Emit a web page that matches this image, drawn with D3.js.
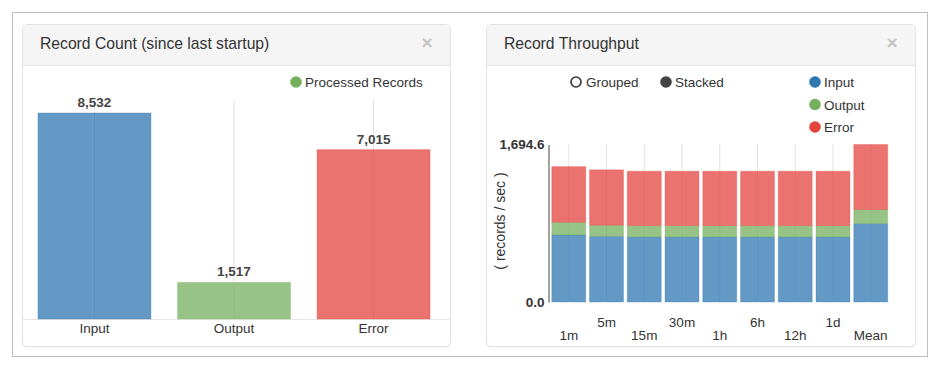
<!DOCTYPE html>
<html>
<head>
<meta charset="utf-8">
<script src="https://cdn.jsdelivr.net/npm/d3@7"></script>
<style>
  body { margin: 0; background: #fff; font-family: "Liberation Sans", Arial, sans-serif; }
  svg text { font-family: "Liberation Sans", Arial, sans-serif; }
</style>
</head>
<body>
<svg id="chart" width="939" height="370"></svg>
<script>
// record count since last startup
const countCategories = ["Input", "Output", "Error"];
const countValues = [8532, 1517, 7015];

// throughput per time window (records / sec)
const windows = ["1m", "5m", "15m", "30m", "1h", "6h", "12h", "1d", "Mean"];
const inputRate = [722, 707, 700, 700, 700, 700, 700, 700, 843.2];
const outputRate = [136, 119, 122, 122, 122, 122, 122, 122, 151];
const errorRate = [599, 596, 585, 585, 585, 585, 585, 585, 700.4];
const rateTicks = [0, 1694.6];

const seriesNames = ["Input", "Output", "Error"];
const colors = { Input: "#2f77b0", Output: "#76af5e", Error: "#e4443f" };

const svg = d3.select("#chart");

// outer frame
svg.append("rect")
    .attr("x", 12.5).attr("y", 12.5)
    .attr("width", 915).attr("height", 344)
    .attr("fill", "#fff").attr("stroke", "#bdbdbd");

function panel(x, w, title) {
    const g = svg.append("g");
    g.append("rect")
        .attr("x", x + 0.5).attr("y", 25.5)
        .attr("width", w).attr("height", 322)
        .attr("rx", 4)
        .attr("fill", "#eee");
    g.append("rect")
        .attr("x", x + 0.5).attr("y", 24.5)
        .attr("width", w).attr("height", 322)
        .attr("rx", 4)
        .attr("fill", "#fff").attr("stroke", "#e2e2e2");
    g.append("path")
        .attr("d", `M${x + 1},65 V29 q0,-4 4,-4 H${x + w - 4} q4,0 4,4 V65 Z`)
        .attr("fill", "#f5f5f5");
    g.append("line")
        .attr("x1", x + 1).attr("x2", x + w)
        .attr("y1", 65.5).attr("y2", 65.5)
        .attr("stroke", "#e2e2e2");
    g.append("text")
        .attr("x", x + 18).attr("y", 49)
        .attr("font-size", 15.7).attr("fill", "#333")
        .text(title);
    g.append("text")
        .attr("x", x + w - 23).attr("y", 49)
        .attr("text-anchor", "middle")
        .attr("font-size", 19).attr("font-weight", "bold").attr("fill", "#c4c4c4")
        .text("\u00d7");
}

panel(22, 428, "Record Count (since last startup)");
panel(486, 429, "Record Throughput");

// ---------- Record count bar chart ----------
const xCount = d3.scaleBand()
    .domain(countCategories)
    .range([24, 444])
    .paddingInner(0.19)
    .paddingOuter(0.1);

const yCount = d3.scaleLinear()
    .domain([0, d3.max(countValues)])
    .range([319, 113]);

const left = svg.append("g");

left.selectAll(".grid")
    .data(countCategories)
    .enter().append("line")
    .attr("x1", d => xCount(d) + xCount.bandwidth() / 2)
    .attr("x2", d => xCount(d) + xCount.bandwidth() / 2)
    .attr("y1", 100).attr("y2", 319)
    .attr("stroke", "#e3e3e3");

left.append("line")
    .attr("x1", 22).attr("x2", 450)
    .attr("y1", 319.5).attr("y2", 319.5)
    .attr("stroke", "#e6e6e6");

left.selectAll(".bar")
    .data(countValues)
    .enter().append("rect")
    .attr("x", (d, i) => xCount(countCategories[i]))
    .attr("width", xCount.bandwidth())
    .attr("y", d => yCount(d))
    .attr("height", d => yCount(0) - yCount(d))
    .attr("fill", (d, i) => colors[countCategories[i]])
    .attr("fill-opacity", 0.75)
    .attr("stroke", (d, i) => colors[countCategories[i]])
    .attr("stroke-opacity", 0.3);

left.selectAll(".val")
    .data(countValues)
    .enter().append("text")
    .attr("x", (d, i) => xCount(countCategories[i]) + xCount.bandwidth() / 2)
    .attr("y", d => yCount(d) - 6)
    .attr("text-anchor", "middle")
    .attr("font-size", 13.5).attr("font-weight", "bold").attr("fill", "#444")
    .text(d => d3.format(",")(d));

left.selectAll(".lab")
    .data(countCategories)
    .enter().append("text")
    .attr("x", d => xCount(d) + xCount.bandwidth() / 2)
    .attr("y", 333)
    .attr("text-anchor", "middle")
    .attr("font-size", 13.5).attr("fill", "#333")
    .text(d => d);

left.append("circle")
    .attr("cx", 296).attr("cy", 82).attr("r", 5.8)
    .attr("fill", colors.Output);
left.append("text")
    .attr("x", 305).attr("y", 87)
    .attr("font-size", 13.5).attr("fill", "#333")
    .text("Processed Records");

// ---------- Throughput stacked bars ----------
const rateRows = windows.map((w, i) => ({
    window: w, Input: inputRate[i], Output: outputRate[i], Error: errorRate[i]
}));
const stacked = d3.stack().keys(seriesNames)(rateRows);

const xRate = d3.scaleBand()
    .domain(windows)
    .range([548, 891.5])
    .paddingInner(0.1)
    .paddingOuter(0.1);

const yRate = d3.scaleLinear()
    .domain([0, d3.max(rateTicks)])
    .range([302, 144.5]);

const right = svg.append("g");

right.selectAll(".grid")
    .data(windows)
    .enter().append("line")
    .attr("x1", d => xRate(d) + xRate.bandwidth() / 2)
    .attr("x2", d => xRate(d) + xRate.bandwidth() / 2)
    .attr("y1", 144).attr("y2", 302)
    .attr("stroke", "#e3e3e3");

right.selectAll(".series")
    .data(stacked)
    .enter().append("g")
    .attr("fill", d => colors[d.key])
    .attr("stroke", d => colors[d.key])
    .selectAll("rect")
    .data(d => d)
    .enter().append("rect")
    .attr("x", d => xRate(d.data.window))
    .attr("width", xRate.bandwidth())
    .attr("y", d => yRate(d[1]))
    .attr("height", d => yRate(d[0]) - yRate(d[1]))
    .attr("fill-opacity", 0.75)
    .attr("stroke-opacity", 0.3);

const yAxis = right.append("g")
    .attr("transform", "translate(548.5,0)")
    .call(d3.axisLeft(yRate).tickValues(rateTicks).tickFormat(d3.format(",.1f")).tickSize(0).tickPadding(4));
yAxis.select(".domain").attr("stroke", "#444");
yAxis.selectAll("text")
    .attr("font-size", 13.5).attr("font-weight", "bold").attr("fill", "#333")
    .attr("font-family", "Liberation Sans, Arial, sans-serif");

right.append("text")
    .attr("transform", "translate(505,221) rotate(-90)")
    .attr("text-anchor", "middle")
    .attr("font-size", 14).attr("fill", "#333")
    .text("( records / sec )");

right.selectAll(".lab")
    .data(windows)
    .enter().append("text")
    .attr("x", d => xRate(d) + xRate.bandwidth() / 2)
    .attr("y", (d, i) => i % 2 === 0 ? 340 : 327)
    .attr("text-anchor", "middle")
    .attr("font-size", 13.5).attr("fill", "#333")
    .text(d => d);

// controls legend
right.append("circle")
    .attr("cx", 576).attr("cy", 82).attr("r", 5)
    .attr("fill", "#fff").attr("stroke", "#333").attr("stroke-width", 1.6);
right.append("text")
    .attr("x", 586).attr("y", 87)
    .attr("font-size", 13.5).attr("fill", "#333").text("Grouped");
right.append("circle")
    .attr("cx", 666).attr("cy", 82).attr("r", 5.8)
    .attr("fill", "#444");
right.append("text")
    .attr("x", 675).attr("y", 87)
    .attr("font-size", 13.5).attr("fill", "#333").text("Stacked");

// series legend
right.selectAll(".leg")
    .data(seriesNames)
    .enter().append("circle")
    .attr("cx", 815).attr("cy", (d, i) => 82 + i * 22.5).attr("r", 5.8)
    .attr("fill", d => colors[d]);
right.selectAll(".legtxt")
    .data(seriesNames)
    .enter().append("text")
    .attr("x", 824).attr("y", (d, i) => 87 + i * 22.5)
    .attr("font-size", 13.5).attr("fill", "#333")
    .text(d => d);
</script>
</body>
</html>
